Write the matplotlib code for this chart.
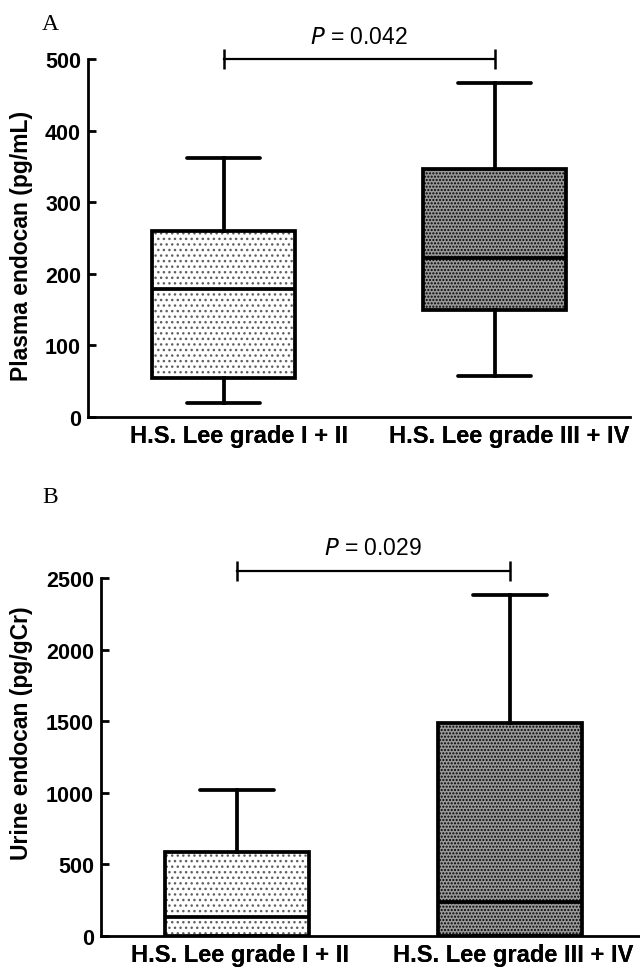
import matplotlib
matplotlib.use("Agg")
import matplotlib.pyplot as plt
from matplotlib.transforms import ScaledTranslation

# ---- data ----
groups = ["H.S. Lee grade I + II", "H.S. Lee grade III + IV"]

plasma_whislo = [19, 57]
plasma_q1 = [54, 149]
plasma_med = [179, 222]
plasma_q3 = [260, 346]
plasma_whishi = [362, 466]
plasma_p = "0.042"
plasma_ticks = [0, 100, 200, 300, 400, 500]

urine_whislo = [0, 0]
urine_q1 = [0, 0]
urine_med = [130, 235]
urine_q3 = [585, 1490]
urine_whishi = [1022, 2380]
urine_p = "0.029"
urine_ticks = [0, 500, 1000, 1500, 2000, 2500]

plt.rcParams['font.family'] = ['Liberation Sans', 'DejaVu Sans']
plt.rcParams['hatch.linewidth'] = 1.0

fig = plt.figure(figsize=(6.4, 9.7), dpi=100)

LW = 2.7
HATCH_FACE = ['white', '#989898']
HATCH_COLOR = ['#606060', 'black']
HATCH = ['...', '.....']


def make_stats(lo, q1, med, q3, hi):
    return [dict(whislo=lo[i], q1=q1[i], med=med[i], q3=q3[i],
                 whishi=hi[i], fliers=[], label=groups[i])
            for i in range(len(groups))]


def panel(ax, lo, q1, med, q3, hi, ticks, ylabel, ptxt, bracket_y, ptext_y,
          label_coords, xlabel_shift_px):
    stats = make_stats(lo, q1, med, q3, hi)
    # fill layer with hatch
    fill = ax.bxp(stats, positions=[1, 2], widths=0.53, capwidths=0.27,
                  patch_artist=True, showfliers=False,
                  boxprops=dict(linewidth=0),
                  medianprops=dict(linewidth=0),
                  whiskerprops=dict(linewidth=0),
                  capprops=dict(linewidth=0))
    for i, b in enumerate(fill['boxes']):
        b.set_facecolor(HATCH_FACE[i])
        b.set_edgecolor(HATCH_COLOR[i])
        b.set_hatch(HATCH[i])
        b.set_linewidth(0)
        b.set_zorder(2)
    # outline layer
    bp = ax.bxp(stats, positions=[1, 2], widths=0.53, capwidths=0.27,
                patch_artist=True, showfliers=False,
                boxprops=dict(linewidth=LW, edgecolor='black', facecolor='none'),
                medianprops=dict(linewidth=LW, color='black'),
                whiskerprops=dict(linewidth=LW, color='black'),
                capprops=dict(linewidth=LW, color='black', solid_capstyle='round'))
    for k in ('boxes', 'medians', 'whiskers', 'caps'):
        for l in bp[k]:
            l.set_zorder(3)

    ax.set_xlim(0.5, 2.5)
    ax.set_ylim(ticks[0], ticks[-1])
    ax.set_yticks(ticks)
    ax.spines['top'].set_visible(False)
    ax.spines['right'].set_visible(False)
    ax.spines['left'].set_linewidth(2.0)
    ax.spines['bottom'].set_linewidth(2.0)
    ax.tick_params(axis='y', direction='in', length=6, width=2.0, labelsize=15.5, pad=5)
    ax.tick_params(axis='x', length=0, labelsize=17, pad=5)
    for t in ax.get_yticklabels() + ax.get_xticklabels():
        t.set_fontweight('bold')
    if xlabel_shift_px:
        off = ScaledTranslation(xlabel_shift_px / 100, 0, fig.dpi_scale_trans)
        for t in ax.get_xticklabels():
            t.set_transform(t.get_transform() + off)
    ax.set_ylabel(ylabel, fontsize=16.5, fontweight='bold')
    ax.yaxis.set_label_coords(*label_coords)

    ax.plot([1, 2], [bracket_y, bracket_y], color='black', lw=1.6,
            marker='|', markersize=15, markeredgewidth=1.8, clip_on=False)
    ax.text(1.5, ptext_y, r"$\it{P}$ = " + ptxt, ha='center', va='center',
            fontsize=16.5, clip_on=False)


axA = fig.add_axes([88 / 640, 1 - 418 / 970, 542 / 640, 358 / 970])
panel(axA, plasma_whislo, plasma_q1, plasma_med, plasma_q3, plasma_whishi,
      plasma_ticks, "Plasma endocan (pg/mL)", plasma_p, 500, 532,
      (-0.101, 0.48), 15)

axB = fig.add_axes([101 / 640, 1 - 937 / 970, 545 / 640, 358 / 970])
panel(axB, urine_whislo, urine_q1, urine_med, urine_q3, urine_whishi,
      urine_ticks, "Urine endocan (pg/gCr)", urine_p, 2550, 2716,
      (-0.125, 0.57), 3)

fig.text(50 / 640, 1 - 25 / 970, "A", fontsize=17, family='Liberation Serif',
         ha='center', va='center')
fig.text(50 / 640, 1 - 498 / 970, "B", fontsize=17, family='Liberation Serif',
         ha='center', va='center')

fig.savefig("out.png", dpi=100)
